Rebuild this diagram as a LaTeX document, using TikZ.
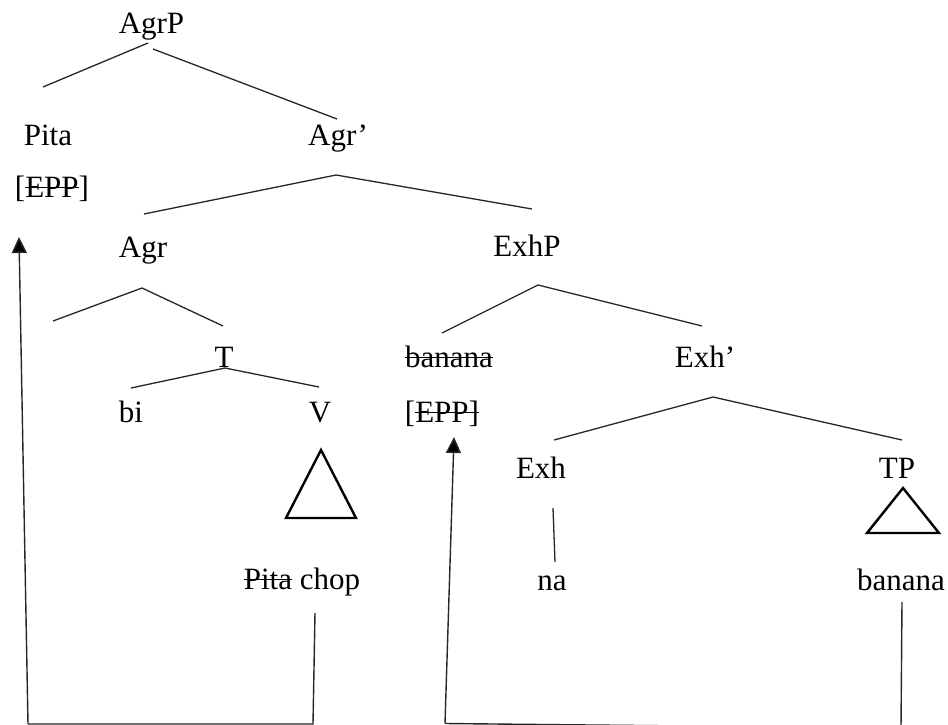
\documentclass[tikz,border=0pt]{standalone}
\usepackage{fontspec}
\setmainfont{Liberation Serif}
\usetikzlibrary{arrows.meta}
% struck-through word: a rule laid over the word's own width
\newcommand\strikeword[1]{\leavevmode\setbox0=\hbox{#1}\rlap{\rule[0.62ex]{\wd0}{1pt}}\box0\relax}

\begin{document}
\begin{tikzpicture}[x=1pt,y=-1pt,
  lbl/.style={anchor=base,inner sep=0pt,font=\fontsize{31}{36}\selectfont,text=black},
  branch/.style={line width=1.3pt,draw=black!85},
  roof/.style={line width=2.4pt,line join=miter,draw=black},
  trace/.style={line width=1.4pt,draw=black!85},
  mover/.style={trace,-{Triangle[length=16pt,width=15pt,fill=black]}}]
\useasboundingbox (0,0) rectangle (948,725);

% labels
\node[lbl] (agrp)     at (151.5,34) {AgrP};
\node[lbl] (pita)     at (48,145)   {Pita};
\node[lbl] (agrbar)   at (338,145)  {Agr’};
\node[lbl] (eppL)     at (52,197)   {[\strikeword{EPP}]};
\node[lbl] (agr)      at (143,257)  {Agr};
\node[lbl] (exhp)     at (527,256)  {ExhP};
\node[lbl] (t)        at (224,367)  {T};
\node[lbl] (bananaA)  at (449,367)  {\strikeword{banana}};
\node[lbl] (exhbar)   at (705,367)  {Exh’};
\node[lbl] (bi)       at (131,422)  {bi};
\node[lbl] (v)        at (320,422)  {V};
\node[lbl] (eppR)     at (442,422)  {[\strikeword{EPP]}};
\node[lbl] (exh)      at (541,478)  {Exh};
\node[lbl] (tp)       at (897,478)  {TP};
\node[lbl] (pitachop) at (302,589)  {\strikeword{Pita} chop};
\node[lbl] (na)       at (552,590)  {na};
\node[lbl] (bananaB)  at (901,590)  {banana};

% branch end points
\coordinate (agrp-l)   at (148,43);
\coordinate (agrp-r)   at (153,49);
\coordinate (pita-t)   at (43,87);
\coordinate (agrbar-t) at (337,119);
\coordinate (agrbar-b) at (336,175);
\coordinate (agr-t)    at (144,214);
\coordinate (exhp-t)   at (532,209);
\coordinate (agr-b)    at (142,288);
\coordinate (agrl-t)   at (53,321);
\coordinate (t-t)      at (223,326);
\coordinate (exhp-b)   at (538,285);
\coordinate (spec-t)   at (442,333);
\coordinate (exhbar-t) at (702,326);
\coordinate (t-b)      at (225,368);
\coordinate (bi-t)     at (131,388);
\coordinate (v-t)      at (319,387);
\coordinate (exhbar-b) at (713,397);
\coordinate (exh-t)    at (554,440);
\coordinate (tp-t)     at (902,440);
\coordinate (exh-b)    at (553,508);
\coordinate (na-t)     at (555,562);

% roofs
\coordinate (v-apex) at (321,450);
\coordinate (v-bl)   at (286,518);
\coordinate (v-br)   at (356,518);
\coordinate (tp-apex) at (903,488);
\coordinate (tp-bl)   at (867,533);
\coordinate (tp-br)   at (939,533);

% movement paths
\coordinate (chop-b)   at (315,613);
\coordinate (base-l)   at (28,724);
\coordinate (base-m)   at (313,724);
\coordinate (eppL-b)   at (19,237);
\coordinate (base-c)   at (445,723.5);
\coordinate (eppR-b)   at (454,437);
\coordinate (bananaB-b) at (902,602);
\coordinate (base-r)   at (901,727);
\coordinate (base-rr)  at (902,728.2);

% tree branches
\draw[branch] (agrp-l) -- (pita-t);
\draw[branch] (agrp-r) -- (agrbar-t);
\draw[branch] (agr-t) -- (agrbar-b) -- (exhp-t);
\draw[branch] (agrl-t) -- (agr-b) -- (t-t);
\draw[branch] (spec-t) -- (exhp-b) -- (exhbar-t);
\draw[branch] (bi-t) -- (t-b) -- (v-t);
\draw[branch] (exh-t) -- (exhbar-b) -- (tp-t);
\draw[branch] (exh-b) -- (na-t);

% triangles
\draw[roof] (v-apex) -- (v-bl) -- (v-br) -- cycle;
\draw[roof] (tp-apex) -- (tp-bl) -- (tp-br) -- cycle;

% movement lines
\draw[trace] (chop-b) -- (base-m) -- (base-l);
\draw[mover] (base-l) -- (eppL-b);
\draw[trace] (bananaB-b) -- (base-r);
\draw[trace] (base-c) -- (base-rr);
\draw[mover] (base-c) -- (eppR-b);
\end{tikzpicture}
\end{document}
